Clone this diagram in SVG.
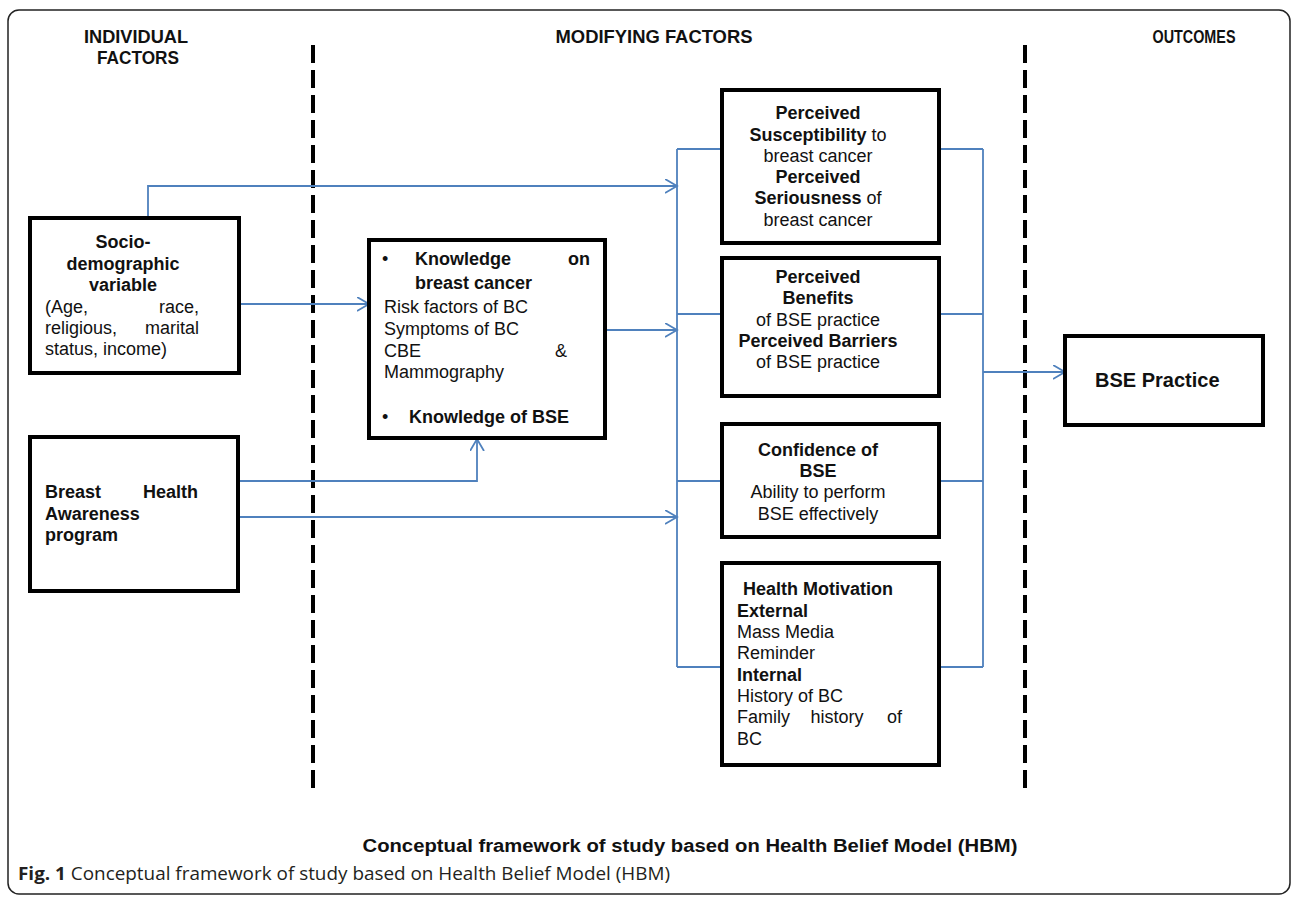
<svg xmlns="http://www.w3.org/2000/svg" width="1295" height="902" viewBox="0 0 1295 902">
<defs>
<style>
.frame{fill:#fff;stroke:#222;stroke-width:1.5}
.box{fill:#fff;stroke:#000;stroke-width:4}
.div{stroke:#000;stroke-width:4;stroke-dasharray:18 7;fill:none}
.c{fill:none;stroke:#4f81bd;stroke-width:1.8}
.t{font-family:"Liberation Sans",Arial,sans-serif;font-size:18px;fill:#111}
.b{font-weight:bold}
.m{text-anchor:middle}
.e{text-anchor:end}
.h{font-family:"Liberation Sans",Arial,sans-serif;font-size:18px;font-weight:bold;fill:#111;text-anchor:middle}
</style>
<marker id="ar" markerUnits="userSpaceOnUse" markerWidth="14" markerHeight="16" refX="12" refY="7" orient="auto">
<path d="M0,0 L12,7 L0,14" fill="none" stroke="#4f81bd" stroke-width="1.8"/>
</marker>
</defs>
<rect class="frame" x="8" y="10" width="1282" height="884" rx="11"/>

<g id="headers">
<text class="h" x="136" y="43" textLength="104" lengthAdjust="spacingAndGlyphs">INDIVIDUAL</text>
<text class="h" x="138" y="64" textLength="82" lengthAdjust="spacingAndGlyphs">FACTORS</text>
<text class="h" x="654" y="43" textLength="197" lengthAdjust="spacingAndGlyphs">MODIFYING FACTORS</text>
<text class="h" x="1194" y="43" textLength="83" lengthAdjust="spacingAndGlyphs">OUTCOMES</text>
</g>

<g id="dividers">
<line class="div" x1="313" y1="45" x2="313" y2="790"/>
<line class="div" x1="1025" y1="45" x2="1025" y2="790"/>
</g>

<g id="connectors">
<path class="c" d="M148,218 V186 H677" marker-end="url(#ar)"/>
<path class="c" d="M239,304 H369" marker-end="url(#ar)"/>
<path class="c" d="M605,330 H677" marker-end="url(#ar)"/>
<path class="c" d="M238,481 H477 V439" marker-end="url(#ar)"/>
<path class="c" d="M238,517 H677" marker-end="url(#ar)"/>
<path class="c" d="M677,149 V667 M677,149 H722 M677,314 H722 M677,481 H722 M677,667 H722"/>
<path class="c" d="M983,149 V667 M939,149 H983 M939,314 H983 M939,481 H983 M939,667 H983"/>
<path class="c" d="M983,372 H1065" marker-end="url(#ar)"/>
</g>

<g id="socio">
<rect class="box" x="30" y="218" width="209" height="155"/>
<text class="t b m" x="123" y="248">Socio-</text>
<text class="t b m" x="123" y="270">demographic</text>
<text class="t b m" x="123" y="291">variable</text>
<text class="t" x="45" y="313">(Age,</text><text class="t e" x="199" y="313">race,</text>
<text class="t" x="45" y="334">religious,</text><text class="t e" x="199" y="334">marital</text>
<text class="t" x="45" y="355">status, income)</text>
</g>

<g id="bha">
<rect class="box" x="30" y="437" width="208" height="154"/>
<text class="t b" x="45" y="498">Breast</text><text class="t b e" x="198" y="498">Health</text>
<text class="t b" x="45" y="520">Awareness</text>
<text class="t b" x="45" y="541">program</text>
</g>

<g id="knowledge">
<rect class="box" x="369" y="240" width="236" height="198"/>
<text class="t" x="382" y="265">•</text>
<text class="t b" x="415" y="265">Knowledge</text><text class="t b e" x="590" y="265">on</text>
<text class="t b" x="415" y="289">breast cancer</text>
<text class="t" x="384" y="313">Risk factors of BC</text>
<text class="t" x="384" y="335">Symptoms of BC</text>
<text class="t" x="384" y="357">CBE</text><text class="t e" x="567" y="357">&amp;</text>
<text class="t" x="384" y="378">Mammography</text>
<text class="t" x="382" y="423">•</text>
<text class="t b" x="409" y="423">Knowledge of BSE</text>
</g>

<g id="susceptibility">
<rect class="box" x="722" y="90" width="217" height="153"/>
<text class="t b m" x="818" y="119">Perceived</text>
<text class="t m" x="818" y="141"><tspan class="b">Susceptibility</tspan> to</text>
<text class="t m" x="818" y="162">breast cancer</text>
<text class="t b m" x="818" y="183">Perceived</text>
<text class="t m" x="818" y="204"><tspan class="b">Seriousness</tspan> of</text>
<text class="t m" x="818" y="226">breast cancer</text>
</g>

<g id="benefits">
<rect class="box" x="722" y="258" width="217" height="138"/>
<text class="t b m" x="818" y="283">Perceived</text>
<text class="t b m" x="818" y="304">Benefits</text>
<text class="t m" x="818" y="326">of BSE practice</text>
<text class="t b m" x="818" y="347">Perceived Barriers</text>
<text class="t m" x="818" y="368">of BSE practice</text>
</g>

<g id="confidence">
<rect class="box" x="722" y="424" width="217" height="113"/>
<text class="t b m" x="818" y="456">Confidence of</text>
<text class="t b m" x="818" y="477">BSE</text>
<text class="t m" x="818" y="498">Ability to perform</text>
<text class="t m" x="818" y="520">BSE effectively</text>
</g>

<g id="motivation">
<rect class="box" x="722" y="563" width="217" height="202"/>
<text class="t b" x="743" y="595">Health Motivation</text>
<text class="t b" x="737" y="617">External</text>
<text class="t" x="737" y="638">Mass Media</text>
<text class="t" x="737" y="659">Reminder</text>
<text class="t b" x="737" y="681">Internal</text>
<text class="t" x="737" y="702">History of BC</text>
<text class="t" x="737" y="723">Family</text><text class="t m" x="837" y="723">history</text><text class="t e" x="902" y="723">of</text>
<text class="t" x="737" y="745">BC</text>
</g>

<g id="bse">
<rect class="box" x="1065" y="336" width="198" height="89"/>
<text class="t b" x="1095" y="387" style="font-size:20px">BSE Practice</text>
</g>

<g id="captions">
<text class="t b m" x="690" y="852" textLength="655" lengthAdjust="spacingAndGlyphs">Conceptual framework of study based on Health Belief Model (HBM)</text>
<text x="18" y="880" style="font-family:'Open Sans','Noto Sans',sans-serif;font-size:18px;fill:#231f20" textLength="652" lengthAdjust="spacingAndGlyphs"><tspan font-weight="bold">Fig. 1</tspan> Conceptual framework of study based on Health Belief Model (HBM)</text>
</g>
</svg>
